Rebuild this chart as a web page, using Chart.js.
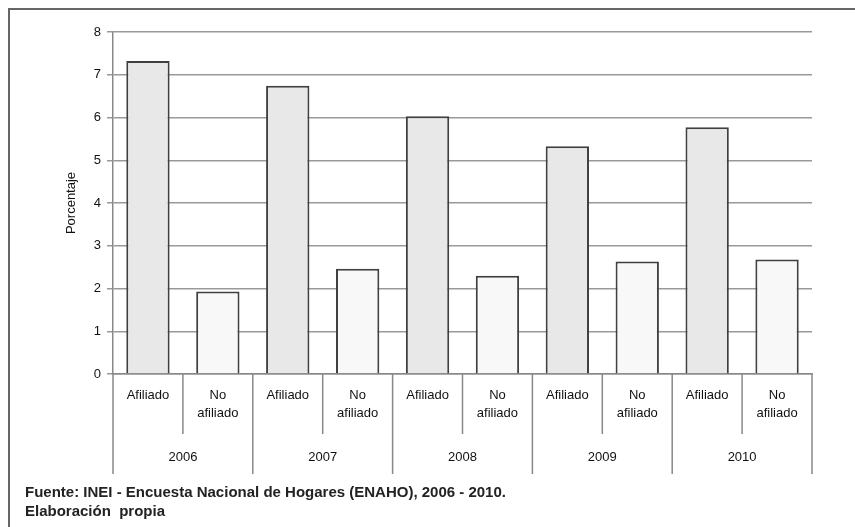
<!DOCTYPE html>
<html><head><meta charset="utf-8">
<script src="https://cdn.jsdelivr.net/npm/chart.js@4"></script>
<style>
body{margin:0;background:#fff;font-family:"Liberation Sans",Arial,sans-serif;overflow:hidden}
#frame{position:absolute;left:8px;top:8px;width:900px;height:600px;border:2px solid #666;box-sizing:border-box}
#wrap{position:absolute;left:0;top:0;width:855px;height:527px}
.foot{position:absolute;left:25px;font-family:"Liberation Sans Narrow","Liberation Sans",Arial;font-weight:bold;font-size:15px;color:#222}
</style></head><body>
<div id="frame"></div>
<div id="wrap"><canvas id="c"></canvas></div>
<div class="foot" style="top:483px">Fuente: INEI - Encuesta Nacional de Hogares (ENAHO), 2006 - 2010.</div>
<div class="foot" style="top:502px">Elaboración&nbsp; propia</div>
<script>
const years=["2006","2007","2008","2009","2010"];
const groups=["Afiliado","No afiliado"];
const afiliado=[7.32,6.74,6.03,5.33,5.77];
const noAfiliado=[1.93,2.46,2.30,2.63,2.68];
const labels=[],vals=[],colors=[];
years.forEach((y,i)=>{labels.push("Afiliado");vals.push(afiliado[i]);colors.push("#e8e8e8");labels.push("No afiliado");vals.push(noAfiliado[i]);colors.push("#f8f8f8");});
const axisPlugin={id:"ax",afterDraw(ch){
 const c=ch.ctx,x=ch.scales.x,a=ch.chartArea;const n=labels.length;const w=(a.right-a.left)/n;
 c.save();c.strokeStyle="#888";c.lineWidth=1.5;c.fillStyle="#111";c.font="13px 'Liberation Sans',Arial";c.textAlign="center";c.textBaseline="middle";
 for(let i=0;i<=n;i++){const px=a.left+i*w;const yb=(i%2==0)?a.bottom+100:a.bottom+60;c.beginPath();c.moveTo(px,a.bottom);c.lineTo(px,yb);c.stroke();}
 for(let i=0;i<n;i++){const cx=x.getPixelForValue(i);if(labels[i]=="Afiliado"){c.fillText("Afiliado",cx,a.bottom+21);}else{c.fillText("No",cx,a.bottom+21);c.fillText("afiliado",cx,a.bottom+39);}}
 for(let j=0;j<years.length;j++){c.fillText(years[j],a.left+(2*j+1)*w,a.bottom+83);}
 c.restore();}};
new Chart(document.getElementById("c"),{type:"bar",data:{labels,datasets:[{data:vals,backgroundColor:colors,borderColor:"#404040",borderWidth:2,barPercentage:0.62,categoryPercentage:1}]},
options:{responsive:true,maintainAspectRatio:false,animation:false,
layout:{padding:{left:60,right:43,top:32,bottom:145}},
plugins:{legend:{display:false},tooltip:{enabled:false}},
scales:{x:{ticks:{display:false},grid:{display:false},border:{color:"#888",width:1.5}},
y:{min:0,max:8,ticks:{stepSize:1,color:"#111",font:{size:13,family:"Liberation Sans"},padding:6},grid:{color:"#999",lineWidth:1.5,tickLength:6},border:{color:"#888",width:1.5},
title:{display:true,text:"Porcentaje",color:"#111",font:{size:13,family:"Liberation Sans"},padding:{bottom:2}},afterFit(s){s.width=53;}}}},
plugins:[axisPlugin]});
</script></body></html>
